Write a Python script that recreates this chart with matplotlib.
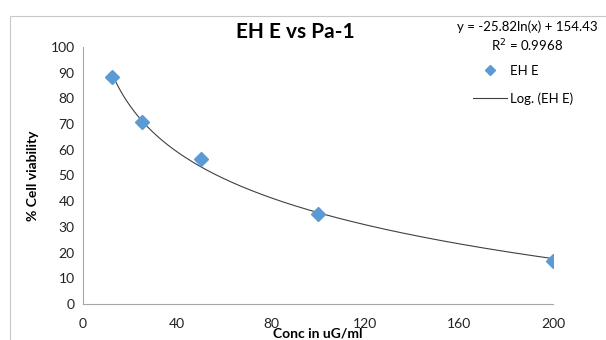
import numpy as np
import matplotlib
matplotlib.use('Agg')
import matplotlib.pyplot as plt
from matplotlib.lines import Line2D
from matplotlib.patches import Rectangle

# data
conc = [12.5, 25, 50, 100, 200]
viability = [88.2, 70.7, 56.3, 34.9, 16.7]

# log trendline shown on the chart
slope = -25.82
intercept = 154.43
r_squared = 0.9968

xticks = [0, 40, 80, 120, 160, 200]
yticks = list(range(0, 101, 10))

plt.rcParams['font.family'] = ['Lato', 'DejaVu Sans']

fig = plt.figure(figsize=(6.06, 3.4), dpi=100)
ax = fig.add_axes([0.137, 0.106, 0.776, 0.756])

# chart frame
fig.patches.append(Rectangle((10 / 606, -0.1), 1.2, (340 - 16) / 340 + 0.1,
                             transform=fig.transFigure, fill=False,
                             edgecolor='#c8c8c8', lw=0.8))

xs = np.linspace(min(conc), max(conc), 300)
ax.plot(xs, slope * np.log(xs) + intercept, color='#404040', lw=0.8, zorder=2)
ax.plot(conc, viability, linestyle='none', marker='D', markersize=7,
        color='#5b9bd5', zorder=3)

ax.set_xlim(0, 200)
ax.set_ylim(0, 100)
ax.set_xticks(xticks)
ax.set_yticks(yticks)
ax.tick_params(length=0, labelsize=10, colors='#222222', pad=6)
ax.tick_params(axis='x', pad=10)
for s in ['top', 'right']:
    ax.spines[s].set_visible(False)
for s in ['left', 'bottom']:
    ax.spines[s].set_color('#a6a6a6')
    ax.spines[s].set_linewidth(0.8)
ax.set_clip_on(False)

ax.set_ylabel('% Cell viability', fontsize=10, fontweight='bold', labelpad=8)
ax.set_xlabel('Conc in uG/ml', fontsize=10, fontweight='bold', labelpad=-2)

fig.text(295 / 606, 1 - 32 / 340, 'EH E vs Pa-1', ha='center', va='center',
         fontsize=15, fontweight='bold')

fig.text(527 / 606, 1 - 27 / 340, f'y = {slope}ln(x) + {intercept}',
         ha='center', va='center', fontsize=9.5)
fig.text(527 / 606, 1 - 46 / 340, f'R$^2$ = {r_squared}',
         ha='center', va='center', fontsize=9.5)

handles = [Line2D([], [], linestyle='none', marker='D', markersize=5.5,
                  color='#5b9bd5'),
           Line2D([], [], color='#404040', lw=0.8)]
fig.legend(handles, ['EH E', 'Log. (EH E)'], loc='upper left',
           bbox_to_anchor=(466 / 606, 1 - 58 / 340), frameon=False,
           fontsize=9.5, handlelength=2.6, handletextpad=0.2,
           labelspacing=1.2, borderpad=0)

fig.savefig('out.png', dpi=100)
